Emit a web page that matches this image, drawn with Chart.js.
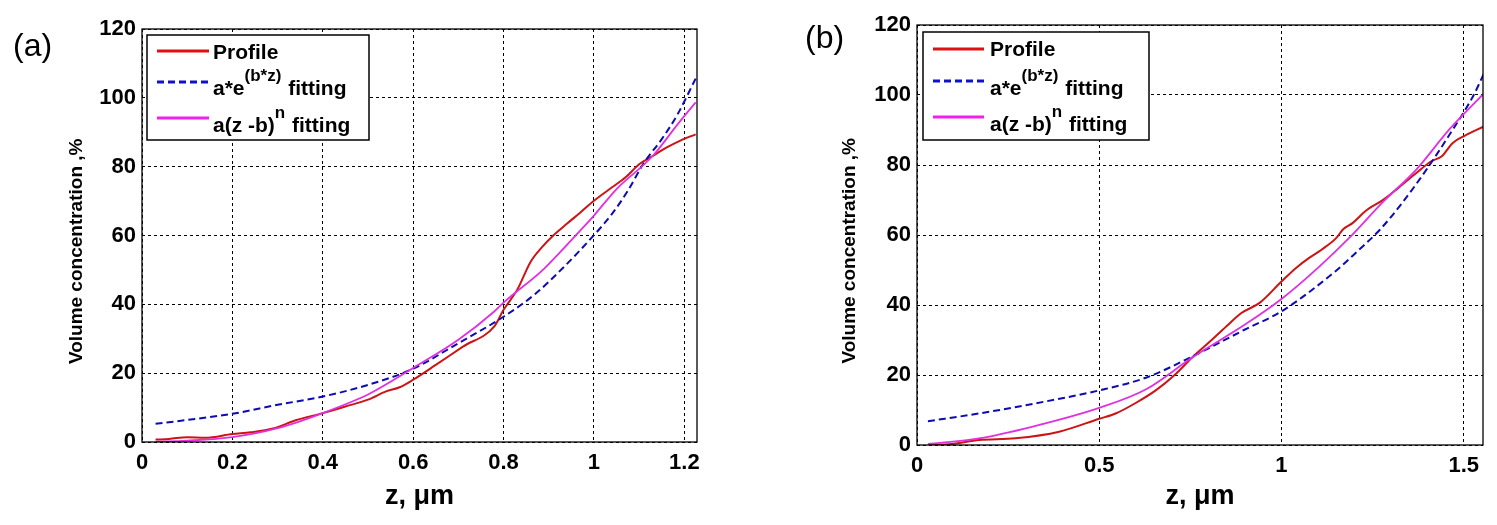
<!DOCTYPE html>
<html>
<head>
<meta charset="utf-8">
<script src="https://cdn.jsdelivr.net/npm/chart.js@4.4.0/dist/chart.umd.min.js"></script>
<style>
body { margin:0; background:#fff; width:1497px; height:525px; position:relative; overflow:hidden; font-family:"Liberation Sans", Arial, sans-serif; }
.panel { position:absolute; top:0; height:525px; }
.tag { position:absolute; font-size:32px; line-height:1; color:#000; }
</style>
</head>
<body>
<div class="panel" style="left:0;width:748px"><canvas id="chartA" width="748" height="525"></canvas></div>
<div class="panel" style="left:748px;width:749px"><canvas id="chartB" width="749" height="525"></canvas></div>
<div class="tag" style="left:13px;top:29px">(a)</div>
<div class="tag" style="left:805px;top:21px">(b)</div>
<script>
// labels
const seriesLabels = ["Profile", "a*e^{(b*z)} fitting", "a(z -b)^{n} fitting"]
const xTitle = "z, \u03bcm"
// trailing spaces push the rotated title a little lower, like the original
const yTitle = "Volume concentration ,%\u00a0\u00a0\u00a0\u00a0\u00a0\u00a0"

// tick labels
const xTicksA = [0, 0.2, 0.4, 0.6, 0.8, 1, 1.2]
const xTicksB = [0, 0.5, 1, 1.5]
const yTicks = [0, 20, 40, 60, 80, 100, 120]

// panel (a)
const profZA = [0.03,0.06,0.1,0.14,0.2,0.24,0.29,0.34,0.4,0.45,0.5,0.54,0.57,0.6,0.65,0.71,0.78,0.8,0.83,0.86,0.885,0.91,0.94,0.97,1.0,1.04,1.07,1.1,1.13,1.16,1.19,1.225]
const profVA = [0.7,0.9,1.4,1.2,2.3,2.8,3.9,6.3,8.4,10.3,12.3,14.7,15.9,18.1,22.4,27.7,33.7,38.4,44.2,52.4,56.6,60.0,63.4,66.7,70.1,74.0,76.9,80.7,83.1,85.5,87.5,89.4]
const expZA = [0.03,0.1,0.2,0.3,0.4,0.5,0.6,0.7,0.8,0.87,0.93,1.0,1.04,1.075,1.11,1.15,1.185,1.225]
const expVA = [5.3,6.4,8.2,10.8,13.2,16.6,21.3,28.7,36.4,43.0,50.4,60.1,66.3,73.0,81.0,88.0,95.2,105.6]
const powZA = [0.03,0.1,0.2,0.3,0.4,0.5,0.55,0.6,0.7,0.78,0.8,0.89,0.97,1.0,1.05,1.13,1.185,1.225]
const powVA = [0.1,0.4,1.4,4.0,8.4,13.8,17.5,21.5,29.7,38.0,40.5,50.4,61.5,65.8,73.5,83.1,92.3,98.7]

// panel (b)
const profZB = [0.03,0.095,0.17,0.27,0.39,0.5,0.545,0.6,0.655,0.71,0.755,0.8,0.85,0.89,0.94,1.0,1.04,1.075,1.11,1.15,1.17,1.195,1.23,1.28,1.32,1.37,1.41,1.44,1.47,1.5,1.555]
const profVB = [0,0.3,1.4,1.9,3.8,7.5,9.0,12.0,15.6,20.3,25.0,29.2,34.0,37.7,40.6,46.7,50.6,53.4,55.8,59.1,61.7,63.4,66.8,70.1,73.4,77.7,81.0,82.5,86.3,88.2,91.0]
const expZB = [0.03,0.17,0.32,0.5,0.63,0.75,0.9,1.0,1.15,1.21,1.27,1.33,1.4,1.46,1.525,1.555]
const expVB = [6.8,9.0,11.8,15.6,19.3,25.0,33.0,38.2,49.8,55.5,61.5,69.0,79.0,88.5,99.5,106.0]
const powZB = [0.03,0.17,0.315,0.5,0.63,0.755,0.9,1.0,1.1,1.19,1.28,1.37,1.46,1.555]
const powVB = [0.3,1.9,5.2,10.6,16.0,25.0,34.4,41.7,50.6,59.6,69.6,78.7,90.1,100.4]

const FONT = '"Liberation Sans", Arial, sans-serif'

function pts(zs, vs) {
    return zs.map((z, i) => ({x: z, y: vs[i]}))
}

// frame box + legend with superscripts
const frameLegend = {
    id: "frameLegend",
    afterDraw(chart, args, opts) {
        const ctx = chart.ctx
        const a = chart.chartArea
        ctx.save()
        ctx.strokeStyle = "#000"
        ctx.lineWidth = 1.3
        ctx.strokeRect(a.left, a.top, a.right - a.left, a.bottom - a.top)

        const bx = a.left + opts.dx, by = a.top + opts.dy
        ctx.fillStyle = "#fff"
        ctx.fillRect(bx, by, opts.w, opts.h)
        ctx.lineWidth = 1.5
        ctx.strokeRect(bx, by, opts.w, opts.h)
        chart.data.datasets.forEach((ds, i) => {
            const ly = by + opts.rowY[i]
            ctx.strokeStyle = ds.legendColor
            ctx.lineWidth = 3
            ctx.setLineDash(ds.borderDash || [])
            ctx.beginPath()
            ctx.moveTo(bx + 10, ly)
            ctx.lineTo(bx + opts.lineEnd, ly)
            ctx.stroke()
            ctx.setLineDash([])

            let x = bx + opts.textX
            const base = by + opts.baseY[i]
            const parts = ds.label.split(/\^\{([^}]*)\}/)
            ctx.fillStyle = "#000"
            ctx.textBaseline = "alphabetic"
            parts.forEach((p, k) => {
                const sup = k % 2 === 1
                ctx.font = (sup ? "bold 17px " : "bold 21px ") + FONT
                ctx.fillText(p, x, sup ? base - 14 : base)
                x += ctx.measureText(p).width + (sup ? 1 : 0)
            })
        })
        ctx.restore()
    }
}

function makeChart(id, p) {
    const ctx = document.getElementById(id).getContext("2d")
    return new Chart(ctx, {
        type: "line",
        data: {
            datasets: [
                {
                    label: seriesLabels[0],
                    data: pts(p.profZ, p.profV),
                    borderColor: "#cc1414",
                    legendColor: "#dd1111",
                    borderWidth: 2,
                    order: 3
                },
                {
                    label: seriesLabels[1],
                    data: pts(p.expZ, p.expV),
                    borderColor: "#0c0cb0",
                    legendColor: "#1010d0",
                    borderWidth: 2,
                    borderDash: [7, 4],
                    order: 2
                },
                {
                    label: seriesLabels[2],
                    data: pts(p.powZ, p.powV),
                    borderColor: "#e030e0",
                    legendColor: "#ee22ee",
                    borderWidth: 1.8,
                    order: 1
                }
            ]
        },
        options: {
            responsive: false,
            animation: false,
            devicePixelRatio: 1,
            elements: {
                point: {radius: 0},
                line: {cubicInterpolationMode: "monotone", fill: false}
            },
            layout: {padding: {top: p.padTop, right: p.padRight, left: 0, bottom: 0}},
            plugins: {
                legend: {display: false},
                tooltip: {enabled: false},
                frameLegend: p.legend
            },
            scales: {
                x: {
                    type: "linear",
                    min: 0,
                    max: p.xMax,
                    afterBuildTicks: s => { s.ticks = p.xTicks.map(v => ({value: v})) },
                    afterFit: s => { s.height = p.xHeight },
                    grid: {color: "#000", lineWidth: 1, drawTicks: false},
                    border: {display: false, dash: [3, 3]},
                    ticks: {color: "#000", padding: 8, font: {family: FONT, size: 22, weight: "bold"}, callback: v => String(v), maxRotation: 0},
                    title: {display: true, text: xTitle, color: "#000", padding: {top: 0, bottom: 12}, font: {family: FONT, size: 27, weight: "bold"}}
                },
                y: {
                    type: "linear",
                    min: 0,
                    max: 120,
                    afterBuildTicks: s => { s.ticks = yTicks.map(v => ({value: v})) },
                    afterFit: s => { s.width = p.yWidth },
                    grid: {color: "#000", lineWidth: 1, drawTicks: false},
                    border: {display: false, dash: [3, 3]},
                    ticks: {color: "#000", padding: 6, font: {family: FONT, size: 22, weight: "bold"}, callback: v => String(v)},
                    title: {display: true, text: yTitle, color: "#000", padding: {top: p.yTitlePad, bottom: 0}, font: {family: FONT, size: 19, weight: "bold"}}
                }
            }
        },
        plugins: [frameLegend]
    })
}

makeChart("chartA", {
    profZ: profZA, profV: profVA, expZ: expZA, expV: expVA, powZ: powZA, powV: powVA,
    xMax: 1.228, xTicks: xTicksA,
    padTop: 29, padRight: 51, yWidth: 142, xHeight: 83, yTitlePad: 65,
    legend: {dx: 5, dy: 6, w: 222, h: 105, lineEnd: 62, textX: 66, rowY: [16, 47, 83], baseY: [24, 60, 97]}
})

makeChart("chartB", {
    profZ: profZB, profV: profVB, expZ: expZB, expV: expVB, powZ: powZB, powV: powVB,
    xMax: 1.553, xTicks: xTicksB,
    padTop: 25, padRight: 14, yWidth: 169, xHeight: 80, yTitlePad: 90,
    legend: {dx: 6, dy: 7, w: 226, h: 108, lineEnd: 61, textX: 67, rowY: [17, 49, 85], baseY: [24, 63, 99]}
})
</script>
</body>
</html>
